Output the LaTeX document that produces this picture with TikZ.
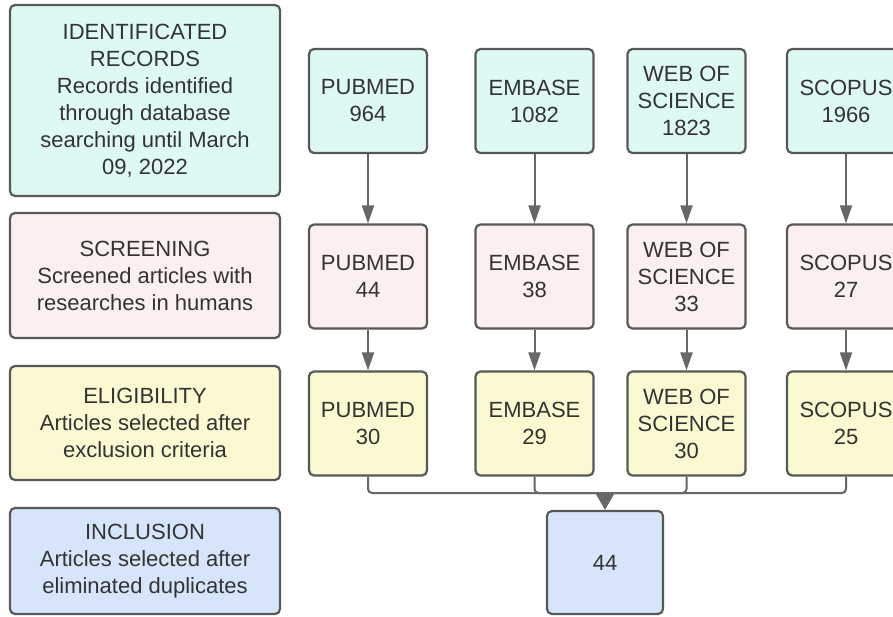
\documentclass[tikz,border=0pt]{standalone}
\usepackage{fontspec}
\setmainfont{Liberation Sans}
\usetikzlibrary{positioning, arrows.meta}

\definecolor{identfill}{HTML}{DEF8F4}
\definecolor{screenfill}{HTML}{FCEFEF}
\definecolor{eligfill}{HTML}{FBF9D2}
\definecolor{inclfill}{HTML}{D7E5FB}
\definecolor{edgegray}{HTML}{585858}
\definecolor{linegray}{HTML}{676767}
\definecolor{textgray}{HTML}{333333}

\begin{document}
\begin{tikzpicture}[x=1pt, y=-1pt, font=\fontsize{22}{27}\selectfont]

    % Box and connector styles
    \tikzset{
        box/.style={draw=edgegray, line width=2.2pt, rounded corners=5pt,
            align=center, text=textgray, inner sep=0pt},
        stagebox/.style={box, minimum width=270pt},
        dbbox/.style={box, minimum width=118pt, minimum height=104pt},
        link/.style={draw=linegray, line width=2pt},
        arrow/.style={link, -{Triangle[length=18pt, width=12pt]}}
    }

    \fill[white] (0,0) rectangle (893,616);
    \useasboundingbox (0,0) rectangle (893,616);
    \clip (0,0) rectangle (893,616);

    % ==========================================
    % Stage boxes (left column)
    % ==========================================
    \node[stagebox, fill=identfill, minimum height=191pt] (ident) at (145,100.5)
        {IDENTIFICATED\\RECORDS\\Records identified\\through database\\searching until March\\09, 2022};
    \node[stagebox, fill=screenfill, minimum height=125pt] (screen) at (145,275.5)
        {SCREENING\\Screened articles with\\researches in humans};
    \node[stagebox, fill=eligfill, minimum height=114pt] (elig) at (145,423)
        {ELIGIBILITY\\Articles selected after\\exclusion criteria};
    \node[stagebox, fill=inclfill, minimum height=106pt] (incl) at (145,561)
        {INCLUSION\\Articles selected after\\eliminated duplicates};

    % ==========================================
    % Identified records per database
    % ==========================================
    \node[dbbox, fill=identfill] (pub1) at (368,101) {PUBMED\\964};
    \node[dbbox, fill=identfill] (emb1) at (534.5,101) {EMBASE\\1082};
    \node[dbbox, fill=identfill] (wos1) at (686.5,101) {WEB OF\\SCIENCE\\1823};
    \node[dbbox, fill=identfill] (sco1) at (846,101) {SCOPUS\\1966};

    % ==========================================
    % Screened articles per database
    % ==========================================
    \node[dbbox, fill=screenfill] (pub2) at (368,276.5) {PUBMED\\44};
    \node[dbbox, fill=screenfill] (emb2) at (534.5,276.5) {EMBASE\\38};
    \node[dbbox, fill=screenfill] (wos2) at (686.5,276.5) {WEB OF\\SCIENCE\\33};
    \node[dbbox, fill=screenfill] (sco2) at (846,276.5) {SCOPUS\\27};

    % ==========================================
    % Eligible articles per database
    % ==========================================
    \node[dbbox, fill=eligfill] (pub3) at (368,423.5) {PUBMED\\30};
    \node[dbbox, fill=eligfill] (emb3) at (534.5,423.5) {EMBASE\\29};
    \node[dbbox, fill=eligfill] (wos3) at (686.5,423.5) {WEB OF\\SCIENCE\\30};
    \node[dbbox, fill=eligfill] (sco3) at (846,423.5) {SCOPUS\\25};

    % Included articles
    \node[dbbox, fill=inclfill, minimum width=116pt, minimum height=103pt] (total) at (605,562.5) {44};

    % Arrows between rows
    \draw[arrow] (pub1) -- (pub2);
    \draw[arrow] (emb1) -- (emb2);
    \draw[arrow] (wos1) -- (wos2);
    \draw[arrow] (sco1) -- (sco2);
    \draw[arrow] (pub2) -- (pub3);
    \draw[arrow] (emb2) -- (emb3);
    \draw[arrow] (wos2) -- (wos3);
    \draw[arrow] (sco2) -- (sco3);

    % Merge into the included total
    \coordinate (merge) at (605,493);
    \draw[link, rounded corners=4pt] (pub3.south) |- (merge);
    \draw[link, rounded corners=4pt] (emb3.south) |- (merge);
    \draw[link, rounded corners=4pt] (wos3.south) |- (merge);
    \draw[link, rounded corners=4pt] (sco3.south) |- (merge);
    \draw[link, -{Triangle[length=17pt, width=19pt]}] (merge) -- (total.north);

\end{tikzpicture}
\end{document}
